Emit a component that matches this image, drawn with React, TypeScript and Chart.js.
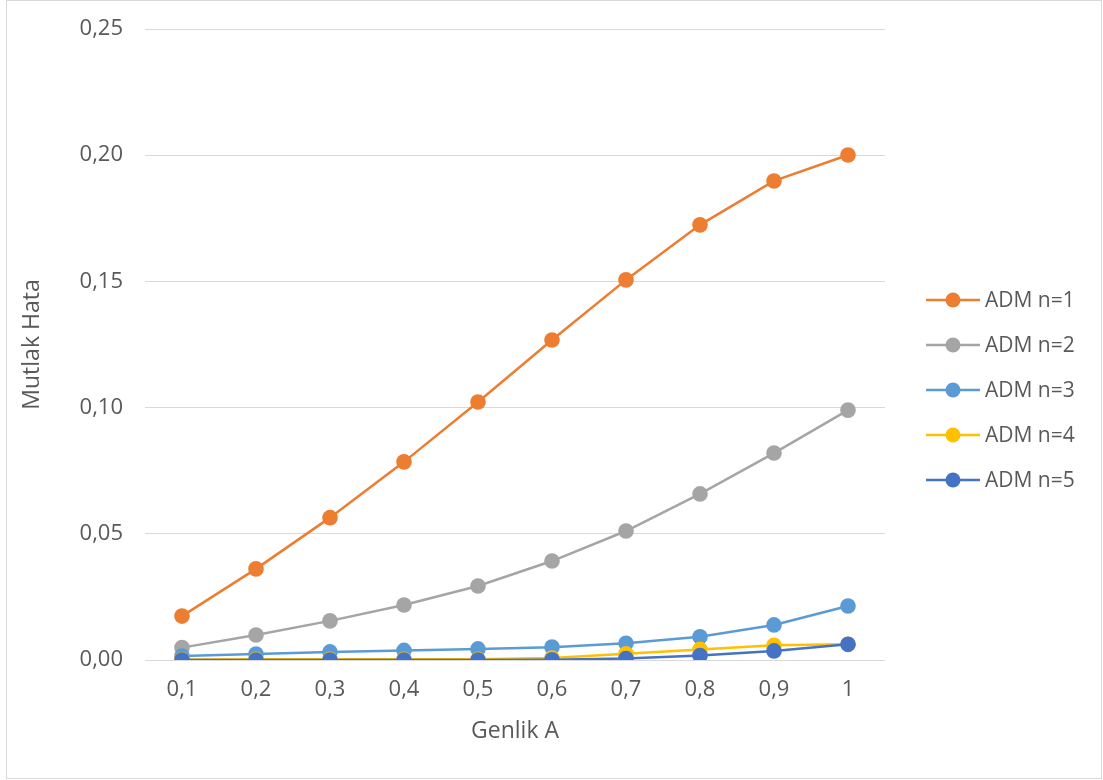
import React, { useEffect, useRef } from "react";
import { Chart, registerables } from "chart.js";

Chart.register(...registerables);

// Amplitude values on the x axis
const amplitudes = ["0,1", "0,2", "0,3", "0,4", "0,5", "0,6", "0,7", "0,8", "0,9", "1"];

// Absolute error of the ADM approximation for each number of terms
const admN1 = [0.0174, 0.0361, 0.0564, 0.0785, 0.1022, 0.1268, 0.1506, 0.1724, 0.1898, 0.2001];
const admN2 = [0.0049, 0.0099, 0.0155, 0.0218, 0.0293, 0.0392, 0.0511, 0.0658, 0.082, 0.099];
const admN3 = [0.0016, 0.0024, 0.0032, 0.0038, 0.0044, 0.0051, 0.0066, 0.0092, 0.0139, 0.0214];
const admN4 = [0.0002, 0.0003, 0.0003, 0.0003, 0.0003, 0.0008, 0.0025, 0.0042, 0.0058, 0.0062];
const admN5 = [0.0, 0.0, 0.0, 0.0, 0.0, 0.0001, 0.0006, 0.0018, 0.0036, 0.0062];

const seriesNames = ["ADM n=1", "ADM n=2", "ADM n=3", "ADM n=4", "ADM n=5"];
const seriesColors = ["#ED7D31", "#A5A5A5", "#5B9BD5", "#FFC000", "#4472C4"];

const FONT = "'Open Sans', 'Noto Sans', sans-serif";
const TEXT = "#595959";

// Border around the whole figure and a legend on the right-hand side
const framePlugin = {
  id: "frameAndLegend",
  beforeDraw(chart: any) {
    const ctx = chart.ctx;
    ctx.save();
    ctx.fillStyle = "#ffffff";
    ctx.fillRect(0, 0, chart.width, chart.height);
    ctx.strokeStyle = "#d9d9d9";
    ctx.lineWidth = 1;
    ctx.strokeRect(6.5, 0.5, 1095, 778);
    ctx.restore();
  },
  afterDraw(chart: any) {
    const ctx = chart.ctx;
    ctx.save();
    chart.data.datasets.forEach((ds: any, i: number) => {
      const y = 300 + i * 45;
      ctx.strokeStyle = ds.borderColor;
      ctx.lineWidth = 2.5;
      ctx.beginPath();
      ctx.moveTo(926, y);
      ctx.lineTo(980, y);
      ctx.stroke();
      ctx.fillStyle = ds.pointBackgroundColor;
      ctx.beginPath();
      ctx.arc(953, y, 7.5, 0, Math.PI * 2);
      ctx.fill();
      ctx.fillStyle = TEXT;
      ctx.font = `21px ${FONT}`;
      ctx.textAlign = "left";
      ctx.textBaseline = "middle";
      ctx.fillText(ds.label, 985, y + 1);
    });
    ctx.restore();
  },
};

export default function App() {
  const canvasRef = useRef<HTMLCanvasElement | null>(null);

  useEffect(() => {
    const values = [admN1, admN2, admN3, admN4, admN5];
    const chart = new Chart(canvasRef.current as HTMLCanvasElement, {
      type: "line",
      data: {
        labels: amplitudes,
        datasets: values.map((v, i) => ({
          label: seriesNames[i],
          data: v,
          order: values.length - i,
          borderColor: seriesColors[i],
          backgroundColor: seriesColors[i],
          pointBackgroundColor: seriesColors[i],
          pointBorderColor: seriesColors[i],
          pointRadius: 7.8,
          pointBorderWidth: 0,
          borderWidth: 2.5,
          tension: 0,
          fill: false,
        })),
      },
      options: {
        responsive: false,
        animation: false,
        layout: { padding: { top: 29, right: 218, left: 0, bottom: 0 } },
        plugins: {
          legend: { display: false },
          tooltip: { enabled: false },
        },
        scales: {
          x: {
            offset: true,
            grid: { display: false, drawTicks: false },
            border: { display: false },
            ticks: { color: TEXT, font: { family: FONT, size: 22 }, padding: 17 },
            title: {
              display: true,
              text: "Genlik A",
              color: TEXT,
              font: { family: FONT, size: 23 },
              padding: { top: 0, bottom: 35 },
            },
            afterFit(scale: any) {
              scale.height = 120;
              scale.paddingLeft = 0;
              scale.paddingRight = 0;
            },
          },
          y: {
            min: 0,
            max: 0.25,
            grid: { color: "#d9d9d9", lineWidth: 1, drawTicks: false },
            border: { display: false },
            ticks: {
              stepSize: 0.05,
              color: TEXT,
              font: { family: FONT, size: 22 },
              padding: 22,
              callback: (v: any) => Number(v).toFixed(2).replace(".", ","),
            },
            title: {
              display: true,
              text: "Mutlak Hata",
              color: TEXT,
              font: { family: FONT, size: 23 },
              padding: { top: 19, bottom: 0 },
            },
            afterFit(scale: any) {
              scale.width = 145;
              scale.paddingTop = 0;
              scale.paddingBottom = 0;
            },
          },
        },
      },
      plugins: [framePlugin],
    });
    return () => chart.destroy();
  }, []);

  return (
    <div style={{ position: "absolute", left: 0, top: 0, width: 1103, height: 780 }}>
      <canvas ref={canvasRef} width={1103} height={780} style={{ width: 1103, height: 780, display: "block" }} />
    </div>
  );
}
